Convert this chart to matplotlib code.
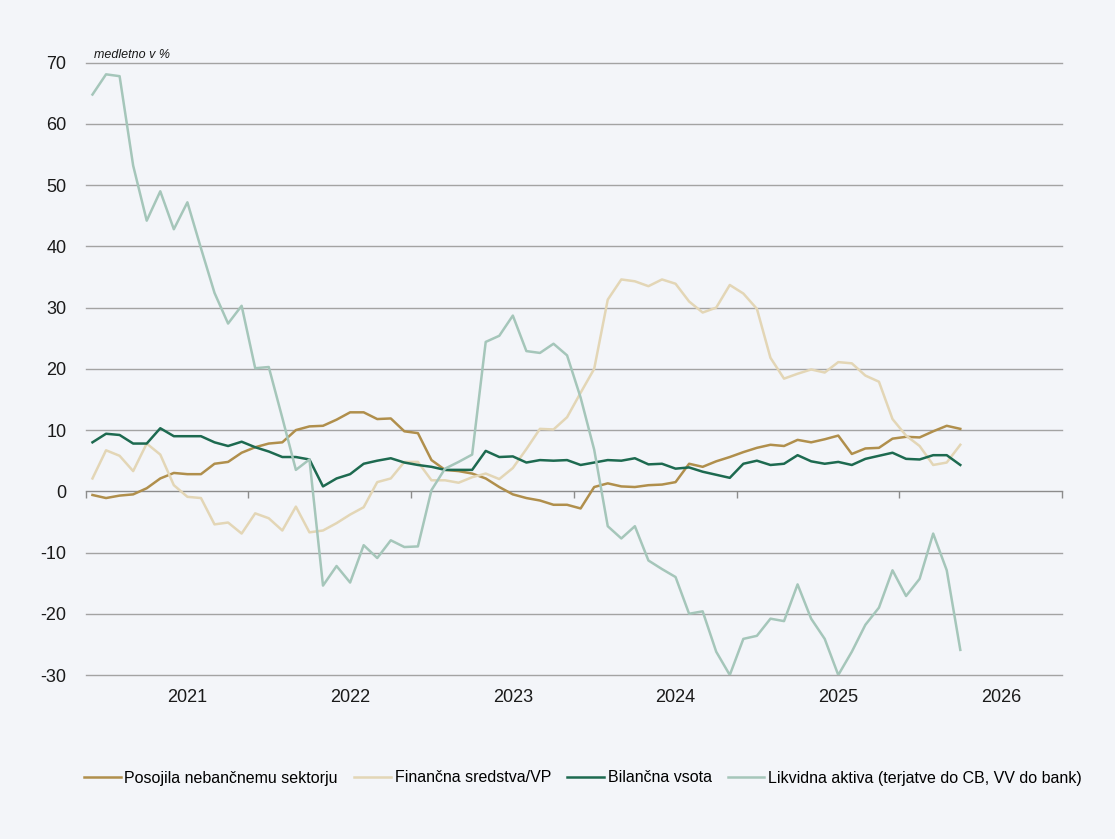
import numpy as np
import matplotlib.pyplot as plt
from matplotlib import transforms

# monthly data, Jun 2020 - Oct 2025 (year-on-year growth in %)
start_month = 6
start_year = 2020

posojila = [-0.6, -1.1, -0.7, -0.5, 0.5, 2.1, 3.0, 2.8, 2.8, 4.5, 4.8, 6.3, 7.2,
            7.8, 8.0, 10.0, 10.6, 10.7, 11.7, 12.9, 12.9, 11.8, 11.9, 9.8, 9.5,
            5.1, 3.5, 3.3, 2.9, 2.1, 0.7, -0.5, -1.1, -1.5, -2.2, -2.2, -2.8,
            0.7, 1.3, 0.8, 0.7, 1.0, 1.1, 1.5, 4.5, 4.0, 4.9, 5.6, 6.4, 7.1,
            7.6, 7.4, 8.4, 8.0, 8.5, 9.1, 6.1, 7.0, 7.1, 8.6, 8.9, 8.8, 9.8,
            10.7, 10.2]

financna = [2.1, 6.7, 5.8, 3.3, 7.8, 6.0, 1.0, -0.9, -1.1, -5.4, -5.1, -6.9,
            -3.6, -4.4, -6.4, -2.5, -6.7, -6.4, -5.2, -3.8, -2.6, 1.5, 2.1, 4.8,
            4.8, 1.8, 1.8, 1.4, 2.3, 2.9, 2.0, 3.8, 6.9, 10.2, 10.1, 12.1, 16.1,
            20.0, 31.3, 34.6, 34.3, 33.5, 34.6, 33.9, 31.0, 29.2, 30.0, 33.7,
            32.3, 29.8, 21.8, 18.4, 19.2, 19.9, 19.4, 21.1, 20.9, 18.9, 17.9,
            11.8, 9.1, 7.4, 4.3, 4.7, 7.6]

bilancna = [8.0, 9.4, 9.2, 7.8, 7.8, 10.3, 9.0, 9.0, 9.0, 8.0, 7.4, 8.1, 7.2,
            6.5, 5.6, 5.6, 5.2, 0.8, 2.1, 2.8, 4.5, 5.0, 5.4, 4.7, 4.3, 4.0,
            3.5, 3.5, 3.5, 6.6, 5.6, 5.7, 4.7, 5.1, 5.0, 5.1, 4.3, 4.7, 5.1,
            5.0, 5.4, 4.4, 4.5, 3.7, 3.9, 3.2, 2.7, 2.2, 4.5, 5.0, 4.3, 4.5,
            5.9, 4.9, 4.5, 4.8, 4.3, 5.3, 5.8, 6.3, 5.3, 5.2, 5.9, 5.9, 4.3]

likvidna = [64.8, 68.1, 67.8, 53.2, 44.2, 49.0, 42.8, 47.2, 39.7, 32.4, 27.4,
            30.3, 20.1, 20.3, 12.0, 3.5, 5.2, -15.4, -12.2, -14.9, -8.8, -10.9,
            -8.0, -9.1, -9.0, 0.2, 3.7, 4.8, 6.0, 24.4, 25.4, 28.7, 22.9, 22.6,
            24.1, 22.2, 15.3, 6.8, -5.7, -7.7, -5.7, -11.3, -12.7, -14.0, -20.0,
            -19.6, -26.2, -30.0, -24.1, -23.6, -20.8, -21.2, -15.2, -20.8, -24.1,
            -30.0, -26.2, -21.8, -19.0, -12.9, -17.1, -14.3, -6.9, -12.9, -25.9]

labels = ['Posojila nebančnemu sektorju', 'Finančna sredstva/VP',
          'Bilančna vsota', 'Likvidna aktiva (terjatve do CB, VV do bank)']
colors = ['#b08f4c', '#e3d6b6', '#1d6a50', '#a5c6ba']
years = ['2021', '2022', '2023', '2024', '2025', '2026']

bg = '#f3f5f9'
plt.rcParams['font.family'] = ['Liberation Sans', 'DejaVu Sans']
plt.rcParams['axes.unicode_minus'] = False

n_cat = 72  # category slots on the axis (6 years)
x = np.arange(len(posojila)) + 0.5

fig = plt.figure(figsize=(11.15, 8.39), dpi=100, facecolor=bg)
ax = fig.add_axes([85.7/1115, 1-675/839, (1062-85.7)/1115, (675-62.7)/839])
ax.set_facecolor(bg)

for s, lab, c in zip([posojila, financna, bilancna, likvidna], labels, colors):
    ax.plot(x, s, color=c, lw=1.8, label=lab, zorder=3)

ax.set_xlim(0, n_cat)
ax.set_ylim(-30, 70)
ax.set_yticks(np.arange(-30, 71, 10))
for v in np.arange(-30, 71, 10):
    if v != 0:
        ax.axhline(v, color='#a3a3a3', lw=1, zorder=1, clip_on=False)

for sp in ['top', 'right', 'left']:
    ax.spines[sp].set_visible(False)
ax.spines['bottom'].set_position(('data', 0))
ax.spines['bottom'].set_color('#8c8c8c')
ax.spines['bottom'].set_linewidth(1)
ax.spines['bottom'].set_zorder(1)

ax.set_xticks(np.arange(0, n_cat + 1, 12))
ax.set_xticklabels([])
ax.tick_params(axis='x', direction='out', length=5, color='#8c8c8c', width=1)
ax.tick_params(axis='y', length=0, pad=14, labelsize=13, labelcolor='#1a1a1a')

# year labels under the plot, centred on January of each year
trans = transforms.blended_transform_factory(ax.transData, ax.transAxes)
first_jan = 12 - start_month + 1
for k, yr in enumerate(years):
    ax.text(first_jan + 12*k + 0.5, -0.036, yr, transform=trans,
            ha='center', va='center', fontsize=13, color='#1a1a1a')

ax.text(94/1115, 1-55/839, 'medletno v %', transform=fig.transFigure,
        fontsize=9, style='italic', color='#1a1a1a', va='center')

fig.legend(loc='center', bbox_to_anchor=(583/1115, 1-778/839), ncol=4,
           frameon=False, fontsize=11.5, handlelength=2.3, handletextpad=0.25,
           columnspacing=1.0)

fig.savefig('out.png', dpi=100, facecolor=bg)
